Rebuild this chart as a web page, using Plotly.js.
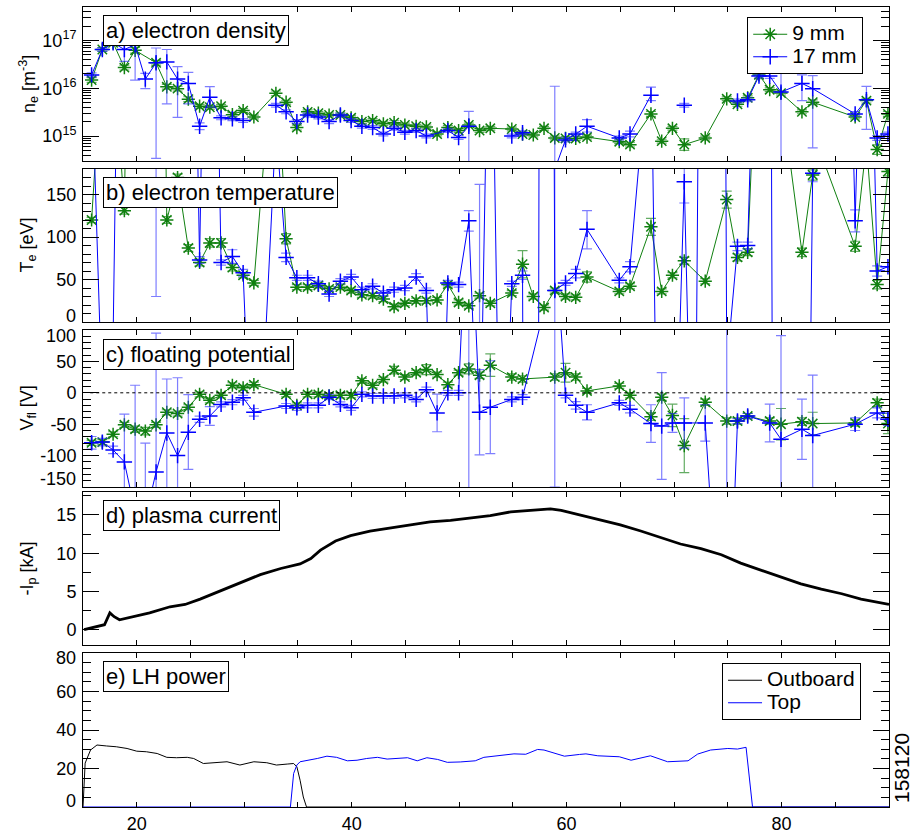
<!DOCTYPE html>
<html><head><meta charset="utf-8">
<script src="https://cdn.plot.ly/plotly-3.0.1.min.js"></script>
<style>html,body{margin:0;padding:0;background:#fff}#plot{width:914px;height:837px}</style>
</head><body><div id="plot"></div>
<script>
// time [ms] of probe samples
const T = [15.8,16.8,17.8,18.85,19.85,20.8,21.8,22.8,23.8,24.8,
 25.85,26.8,27.85,28.9,29.9,30.9,31.9,32.95,33.9,34.9,
 35.9,36.9,37.9,38.95,39.95,40.95,41.95,42.95,43.95,44.95,
 46.0,46.95,47.95,48.95,49.95,50.9,51.9,52.9,53.9,54.9,
 55.9,56.9,57.9,58.9,59.9,60.85,61.9,62.9,63.9,64.9,
 65.9,66.9,67.85,68.85,69.85,70.95,71.9,72.9,73.9,74.9,
 75.9,76.85,77.9,78.9,79.95,80.9,81.9,82.9,83.9,84.9,
 85.9,86.85,87.9,88.9,89.9];
// null = no sample (line connects over it), 'gap' = line break
// a) electron density, units of 1e15 m^-3 ; errors in decades
const neGreen = [14.8,64.6,89,27,62,null,34,10.7,9.8,5.9,
 4.2,4.0,4.2,2.8,3.4,2.5,null,7.8,5.1,1.5,
 3.2,3.0,2.75,2.75,2.4,2.0,2.1,1.8,1.9,1.7,
 1.6,1.55,1.1,1.5,1.3,1.7,1.3,1.45,null,1.4,
 1.1,1.05,1.45,0.91,0.89,0.89,0.95,null,null,0.76,
 0.66,null,2.9,0.78,1.45,0.66,null,0.91,null,6.0,
 4.6,6.3,19,9.3,7.9,null,3.2,5.1,null,null,
 null,2.5,5.5,0.52,2.9];
const neGreenErr = [0.05,0.04,0.04,0.05,0.06,0,0.05,0.05,0.05,0.05,
 0.04,0.04,0.04,0.04,0.04,0.04,0,0.05,0.04,0.05,
 0.04,0.04,0.04,0.04,0.04,0.04,0.04,0.04,0.04,0.04,
 0.04,0.04,0.04,0.04,0.04,0.04,0.04,0.04,0,0.04,
 0.04,0.04,0.04,0.04,0.04,0.04,0.04,0,0,0.04,
 0.05,0,0.05,0.04,0.04,0.12,0,0.04,0,0.04,
 0.04,0.04,0.08,0.04,0.04,0,0.04,0.05,0,0,
 0,0.04,0.05,0.1,0.05];
const neBlue = [19,64.6,89,64.6,81,15.5,34,35.5,15.5,12.6,
 1.6,6.5,2.4,2.3,2.1,'gap',null,4.4,3.2,2.0,
 2.75,2.5,2.0,2.75,2.1,1.6,1.5,1.1,1.45,1.2,
 1.3,1.0,null,1.3,0.93,1.6,'gap',null,null,1.0,
 1.17,'gap',null,0.2,0.83,1.1,1.6,null,null,0.91,
 1.1,null,7.1,'gap',null,4.4,'gap',null,null,null,
 5.4,5.75,18,18,8.3,null,12.6,9.8,null,null,
 null,2.9,5.75,0.91,1.1];
const neBlueErrUp = [0.04,0.04,0.04,0.14,0.04,0.12,0.31,0.26,0.26,0.23,
 0.07,0.22,0.04,0.04,0.04,0,0,0.04,0.04,0.04,
 0.04,0.04,0.04,0.04,0.04,0.04,0.04,0.04,0.04,0.04,
 0.04,0.04,0,0.04,0.04,0.31,0,0,0,0.04,
 0.04,0,0,1.74,0.04,0.04,0.14,0,0,0.04,
 0.06,0,0.17,0,0,0.04,0,0,0,0,
 0.04,0.04,0.04,0.07,0.39,0,0.18,0.27,0,0,
 0,0.05,0.28,0.05,0.04];
const neBlueErrDn = [0.04,0.04,0.04,0.25,0.74,0.20,2.0,0.88,0.80,0.43,
 0.07,0.21,0.04,0.04,0.04,0,0,0.04,0.04,0.04,
 0.04,0.04,0.04,0.04,0.04,0.04,0.04,0.04,0.04,0.04,
 0.04,0.04,0,0.04,0.04,1.5,0,0,0,0.04,
 0.04,0,0,0.05,0.04,0.04,0.12,0,0,0.04,
 0.06,0,0.11,0,0,0.04,0,0,0,0,
 0.04,0.04,0.04,0.05,2.0,0,0.36,1.24,0,0,
 0,0.05,0.62,0.05,0.04];
// b) electron temperature [eV]
const teGreen = [120,320,330,131,1000,null,1000,120,170,87,
 70,93,93,64,55,46,200,330,98,41,
 41,43,39,41,37,32,31,27,18,22,
 25,25,26,44,23,19,31,22,null,34,
 68,30,17,37,30,29,53,null,null,36,
 42,null,112,36,55,72,null,48,null,144,
 76,82,400,320,270,null,82,173,190,null,
 null,89,210,44,177];
const teGreenErr = [3,5,5,4,0,0,0,4,4,4,
 4,5,5,4,3,3,0,0,6,3,
 3,3,3,3,3,3,3,3,3,3,
 3,3,3,3,3,3,3,3,0,3,
 16,3,3,3,3,3,6,0,0,3,
 3,0,10,3,3,4,0,3,0,10,
 4,4,0,0,0,0,5,6,0,0,
 0,6,0,5,5];
const teBlue = [300,-100,-20,900,null,null,400,null,null,800,
 73,800,70,77,58,-250,-40,230,76,52,
 52,45,33,48,53,38,42,34,38,40,
 53,37,-400,46,44,119,-200,500,-300,45,
 55,-3000,3000,37,46,57,109,null,null,49,
 65,null,350,-600,-300,165,-340,null,3000,-53,
 89,90,540,800,-3000,null,null,175,null,null,
 600,119,600,60,65];
const teBlueErrUp = [0,0,0,0,0,0,0,0,0,0,
 4,0,3,8,4,0,0,0,5,3,
 3,3,3,3,3,3,3,3,3,3,
 4,3,0,3,3,12,362,0,0,3,
 5,0,0,500,3,5,22,0,0,3,
 6,0,0,0,0,25,0,0,0,0,
 5,4,0,0,0,0,0,10,0,0,
 0,13,0,6,5];
const teBlueErrDn = [0,0,0,0,0,0,370,0,0,0,
 4,0,3,8,4,0,0,0,5,3,
 3,3,3,3,3,3,3,3,3,3,
 4,3,0,3,3,12,0,0,0,3,
 5,0,0,500,3,5,23,0,0,3,
 6,0,0,0,0,25,0,0,0,0,
 5,4,0,0,0,0,0,10,0,0,
 0,13,0,6,5];
// c) floating potential [V]
const vfGreen = [-79.6,-78.5,-66,-51,-58,-61,-51,-31,-33,-23,
 -2.5,-12,-4,12,8,13,null,null,-2.5,-20,
 -2.5,-2.5,-5,-4,-4,19,12,21,36,25,
 32,37,29,13,32,38,28,44,null,25,
 22,null,null,25,32,25,3,null,null,11,
 -4,null,-38,-7,-36,-84,null,-15,null,-45,
 -45,-37,null,-45,-50,null,-46,-49,null,null,
 null,-48,null,-16,-49];
const vfGreenErr = [4,4,4,4,5,6,4,4,4,4,
 4,4,4,4,4,4,0,0,4,4,
 4,4,4,4,4,4,4,4,6,4,
 4,8,4,4,4,8,5,18,0,5,
 5,0,0,5,15,5,4,0,0,4,
 4,0,6,5,18,43,0,5,0,5,
 5,4,0,5,25,0,6,18,0,0,
 0,5,0,6,16];
const vfBlue = [-79.6,-78.5,-91,-110,-190,-200,-126,-64,-100,-63,
 -42,-37,-18.5,-15,-8,-31,null,null,-21,-24,
 -20,-20,-7,-18.5,-24,-2.5,-5,-5,-5,-4,
 -10.5,5,-32,0,0,370,-31,-23,null,-10.5,
 -7,null,132,250,-4,-20,-31,null,null,-16,
 -26,null,-49,-53,-48,-48,null,-48,-310,-500,
 -45,-37,null,-48,-74,null,-58,-68,null,null,
 null,-50,null,-32,-42];
const vfBlueErrUp = [10,6,6,76,202,120,221,86,124,60,
 5,15,4,4,4,6,0,0,4,4,
 4,4,4,4,4,4,4,4,4,4,
 4,4,30,4,4,600,68,74,0,4,
 4,0,0,400,4,6,12,0,0,4,
 6,0,30,85,15,40,0,29,0,700,
 4,4,0,30,165,0,48,96,0,0,
 0,10,0,8,10];
const vfBlueErrDn = [10,6,6,76,0,0,221,100,60,59,
 5,15,4,4,4,6,0,0,4,4,
 4,4,4,4,4,4,4,4,4,4,
 4,4,30,4,4,600,68,74,0,4,
 4,0,0,400,4,6,12,0,0,4,
 6,0,30,85,15,40,0,29,0,700,
 4,4,0,30,165,0,48,96,0,0,
 0,10,0,8,10];
// d) plasma current [kA]
const tIp = [15.1,16.1,17.0,17.5,17.9,18.4,19.4,21.2,23.1,24.5,
 25.9,27.8,29.6,31.5,33.4,35.2,36.2,37.1,38.5,39.9,
 41.7,43.6,45.5,47.3,49.2,51.1,52.9,54.8,56.7,58.5,
 59.5,61.3,63.2,65.0,66.9,68.8,70.6,72.5,74.4,76.2,
 78.1,80.0,81.8,83.7,85.6,87.4,89.3,90.0];
const ip = [0.0,0.3,0.65,2.2,1.7,1.3,1.6,2.2,3.0,3.3,
 4.0,5.1,6.1,7.2,8.0,8.6,9.3,10.4,11.6,12.3,
 12.9,13.3,13.7,14.1,14.3,14.6,14.9,15.4,15.6,15.8,
 15.6,15.0,14.3,13.7,12.9,12.0,11.2,10.6,9.8,8.7,
 7.8,6.8,6.0,5.3,4.7,4.0,3.5,3.3];
// e) LH power [kW]
const tOut = [15.0,15.2,15.7,16.3,17.2,18.1,19.1,20.0,20.9,21.9,22.8,23.7,24.7,25.3,26.2,27.1,28.4,29.6,30.9,32.1,33.0,34.0,34.6,34.9,35.2,35.5,35.8,90];
const pOut = [0,22.8,29.6,32.2,31.7,31.3,30.4,29.0,28.7,27.8,25.8,25.6,25.8,25.2,22.6,23.0,23.5,21.8,23.5,23.0,21.8,22.3,22.6,20.9,13.9,5.2,0,0];
const tTop = [15,34.3,34.6,34.9,35.2,35.8,36.8,37.7,38.6,39.6,40.5,41.4,42.4,43.3,44.2,45.2,46.1,47.0,48.0,48.9,50.1,51.5,52.3,53.4,54.5,55.1,56.2,57.3,57.9,59.8,61.2,61.8,62.9,64.9,66.0,67.8,69.4,71.3,72.2,73.4,75.0,75.9,76.7,77.3,90];
const pTop = [0,0,17.4,21.8,23.5,24.0,25.2,26.4,25.8,24.0,24.3,25.2,25.8,24.9,25.4,25.6,24.0,25.6,24.7,23.2,23.4,24.0,25.8,26.6,27.3,27.6,27.4,29.9,29.6,26.4,27.3,27.6,26.6,26.1,24.3,26.6,23.5,24.0,27.5,29.6,30.4,30.1,31.0,0,0];

// y tick labels
const teTicks = [0,50,100,150];
const vfTicks = [-150,-100,-50,0,50,100];
const ipTicks = [0,5,10,15];
const lhTicks = [0,20,40,60,80];

const GREEN = 'rgb(16,128,16)', GREEN_E = 'rgba(16,128,16,0.65)';
const BLUE = 'rgb(0,0,255)', BLUE_E = 'rgba(40,40,255,0.6)';

function build(vals, up, dn, conv) {
  const x=[], y=[], eu=[], ed=[];
  for (let i=0;i<T.length;i++){
    const v = vals[i];
    if (v===null) continue;
    if (v==='gap'){x.push(null);y.push(null);eu.push(null);ed.push(null);continue;}
    const c = conv(v, up[i], dn[i]);
    x.push(T[i]); y.push(c.y); eu.push(c.u); ed.push(c.d);
  }
  return {x,y,eu,ed};
}
const logConv = (v,u,d)=>{const y=v*1e15; return {y, u:y*(Math.pow(10,u)-1), d:y*(1-Math.pow(10,-d))};};
const linConv = (v,u,d)=>({y:v,u:u,d:d});
const big = s => '<span style="font-size:21px">'+s+'</span>';

function tr(s, color, ecolor, symbol, xa, ya, name, show){
  return {x:s.x, y:s.y, xaxis:xa, yaxis:ya, type:'scatter', mode:'lines+markers', name:big(name),
    showlegend:show, legend:'legend', connectgaps:false,
    line:{color:color,width:1},
    marker:{symbol:symbol,size:11,color:color,line:{color:color,width:1.5}},
    error_y:{type:'data',symmetric:false,array:s.eu,arrayminus:s.ed,color:ecolor,thickness:1.2,width:5}};
}

const data = [
  tr(build(neGreen,neGreenErr,neGreenErr,logConv),GREEN,GREEN_E,'asterisk-open','x','y','9 mm',true),
  tr(build(neBlue,neBlueErrUp,neBlueErrDn,logConv),BLUE,BLUE_E,'cross-thin-open','x','y','17 mm',true),
  tr(build(teGreen,teGreenErr,teGreenErr,linConv),GREEN,GREEN_E,'asterisk-open','x2','y2','9 mm',false),
  tr(build(teBlue,teBlueErrUp,teBlueErrDn,linConv),BLUE,BLUE_E,'cross-thin-open','x2','y2','17 mm',false),
  tr(build(vfGreen,vfGreenErr,vfGreenErr,linConv),GREEN,GREEN_E,'asterisk-open','x3','y3','9 mm',false),
  tr(build(vfBlue,vfBlueErrUp,vfBlueErrDn,linConv),BLUE,BLUE_E,'cross-thin-open','x3','y3','17 mm',false),
  {x:tIp,y:ip,xaxis:'x4',yaxis:'y4',type:'scatter',mode:'lines',showlegend:false,line:{color:'black',width:2.8}},
  {x:tOut,y:pOut,xaxis:'x5',yaxis:'y5',type:'scatter',mode:'lines',name:big('Outboard'),legend:'legend2',line:{color:'black',width:1}},
  {x:tTop,y:pTop,xaxis:'x5',yaxis:'y5',type:'scatter',mode:'lines',name:big('Top'),legend:'legend2',line:{color:'rgb(0,0,255)',width:1}}
];

const H = 800, TOP = 7;
function dom(t,b){return [(TOP+H-b)/H,(TOP+H-t)/H];}
const FONT = 'Liberation Sans, Arial, Helvetica, sans-serif';
function xax(anchor, labels){
  return {domain:[0,1], anchor:anchor, range:[15,90], matches: anchor==='y'?undefined:'x',
    ticks:'inside', ticklen:5, tickwidth:1, tickcolor:'black', tick0:0, dtick:20,
    minor:{ticks:'inside', dtick:5, ticklen:5, tickcolor:'black', tickwidth:1},
    showticklabels:labels, showline:true, linecolor:'black', linewidth:1, mirror:'ticks',
    showgrid:false, zeroline:false, tickfont:{size:18}};
}
function yax(anchor, d, extra){
  return Object.assign({domain:d, anchor:anchor, ticks:'inside', ticklen:16, tickwidth:1, tickcolor:'black',
    showline:true, linecolor:'black', linewidth:1, mirror:'ticks', showgrid:false, zeroline:false,
    tickfont:{size:18}, ticklabelstandoff:2}, extra);
}
// edge labels drawn as annotations (shifted inward, as in the reference)
const edge = {y2:{0:6}, y3:{100:-6, '-150':8}, y5:{80:-5, 0:6}};
function linTicks(axis, vals){
  const sh = edge[axis] || {};
  return {tickmode:'array', tickvals:vals, ticktext:vals.map(v=> (String(v) in sh) ? ' ' : String(v))};
}
const logMinor = [];
for (let e=14;e<=17;e++) for (let m=2;m<=9;m++) logMinor.push(m*Math.pow(10,e));

const layout = {
  width:914, height:837, margin:{l:83,r:25,t:7,b:30}, paper_bgcolor:'white', plot_bgcolor:'white',
  font:{family:FONT, size:18, color:'black'},
  xaxis: xax('y', false), xaxis2: xax('y2', false), xaxis3: xax('y3', false), xaxis4: xax('y4', false), xaxis5: xax('y5', true),
  yaxis: yax('x', dom(7,161), {type:'log', range:[Math.log10(3e14), Math.log10(5e17)], tickmode:'array',
    tickvals:[1e15,1e16,1e17], ticktext:['10<sup>15</sup>','10<sup>16</sup>','10<sup>17</sup>'],
    minor:{ticks:'inside', tickmode:'array', tickvals:logMinor, ticklen:8, tickcolor:'black', tickwidth:1}}),
  yaxis2: yax('x2', dom(169,322), Object.assign({range:[0,180], minor:{ticks:'inside', dtick:10, ticklen:8, tickcolor:'black'}}, linTicks('y2', teTicks))),
  yaxis3: yax('x3', dom(330,487), Object.assign({range:[-150,100], minor:{ticks:'inside', dtick:10, ticklen:8, tickcolor:'black'}}, linTicks('y3', vfTicks))),
  yaxis4: yax('x4', dom(492,645), Object.assign({range:[-2,18], minor:{ticks:'inside', dtick:2.5, ticklen:8, tickcolor:'black'}}, linTicks('y4', ipTicks))),
  yaxis5: yax('x5', dom(653,807), Object.assign({range:[0,80], minor:{ticks:'inside', dtick:5, ticklen:8, tickcolor:'black'}}, linTicks('y5', lhTicks))),
  legend:{x:0.968, xanchor:'right', y:(807-17)/800, yanchor:'top', bordercolor:'black', borderwidth:1, bgcolor:'white',
    font:{size:15}, tracegroupgap:0, itemwidth:34},
  legend2:{x:0.9653, xanchor:'right', y:(807-663)/800, yanchor:'top', bordercolor:'black', borderwidth:1, bgcolor:'white',
    font:{size:15}, tracegroupgap:0, itemwidth:34},
  shapes:[{type:'line', xref:'x3 domain', x0:0.009, x1:1, yref:'y3', y0:0, y1:0, line:{color:'black', width:1, dash:'dot'}}],
  annotations:[]
};
Object.keys(edge).forEach(ax=>{
  Object.keys(edge[ax]).forEach(v=>{
    layout.annotations.push({text:String(v), xref:'paper', x:0, xanchor:'right', xshift:-5, yref:ax, y:Number(v),
      yanchor:'middle', yshift:edge[ax][v], showarrow:false, font:{size:18}});
  });
});
const labels = [['a) electron density','x','y'],['b) electron temperature','x2','y2'],['c) floating potential','x3','y3'],['d) plasma current','x4','y4'],['e) LH power','x5','y5']];
labels.forEach(l=>layout.annotations.push({text:l[0], xref:l[1]+' domain', yref:l[2]+' domain', x:0.025, y:0.945,
  xanchor:'left', yanchor:'top', showarrow:false, bordercolor:'black', borderwidth:1, borderpad:2, bgcolor:'white', font:{size:22}}));
const ytitles = [['n<sub>e</sub> [m<sup>-3</sup>]','y'],['T<sub>e</sub> [eV]','y2'],['V<sub>fl</sub> [V]','y3'],['-I<sub>p</sub> [kA]','y4']];
ytitles.forEach(t=>layout.annotations.push({text:t[0], xref:'paper', yref:t[1]+' domain', x:(28-83)/807, y:0.5,
  xanchor:'center', yanchor:'middle', textangle:-90, showarrow:false, font:{size:18}}));
layout.annotations.push({text:'158120', xref:'paper', yref:'paper', x:(902-83)/807, y:(807-768)/800, xanchor:'center', yanchor:'middle',
  textangle:-90, showarrow:false, font:{size:21}});

Plotly.newPlot('plot', data, layout, {displayModeBar:false, staticPlot:true});
</script></body></html>
